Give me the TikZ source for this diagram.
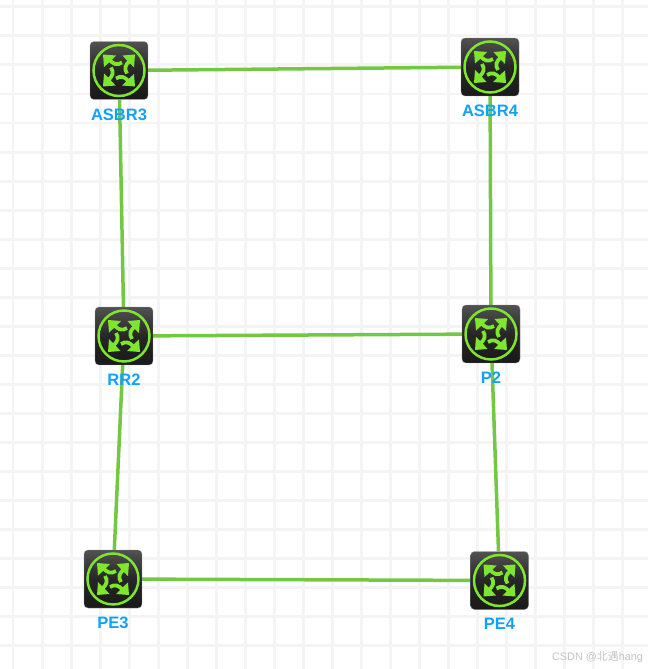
\documentclass[tikz,border=0pt]{standalone}
\usepackage{fontspec}
\setmainfont{Liberation Sans}
\newfontfamily\cjkfont{Noto Sans CJK SC}
\usetikzlibrary{positioning,backgrounds}
\definecolor{gridgray}{HTML}{F4F4F4}
\definecolor{linkgreen}{HTML}{74C742}
\definecolor{icongreen}{HTML}{7FE62E}
\definecolor{labelblue}{HTML}{12A0FF}
\definecolor{markgray}{HTML}{C4C4C4}
\tikzset{
    router/.style={rounded corners=0.08cm,minimum size=1.16cm,inner sep=0pt,
        top color=black!68,bottom color=black!90,middle color=black!85,draw=black!45,line width=0.2pt},
    routerlabel/.style={text=labelblue,font=\fontsize{9.4pt}{10pt}\selectfont\bfseries,inner sep=0pt,below=0.17cm of #1},
    link/.style={draw=linkgreen,line width=0.07cm},
    gridline/.style={draw=gridgray,line width=0.06cm}
}
\begin{document}
\begin{tikzpicture}[x=0.02cm,y=-0.02cm]
    \useasboundingbox (0,0) rectangle (648,669);

    \node[router] (asbr3) at (119,70.5) {};
    \node[router] (asbr4) at (490,67) {};
    \node[router] (rr2) at (124,336) {};
    \node[router] (p2) at (491,334) {};
    \node[router] (pe3) at (113,579) {};
    \node[router] (pe4) at (499.5,580.5) {};

    \foreach \nd in {asbr3,asbr4,rr2,p2,pe3,pe4} {
        \begin{scope}[shift={(\nd.center)},x=0.02cm,y=0.02cm]
            \draw[icongreen,line width=0.05cm] (0,0) circle (25.5);
            \foreach \ang in {0,90,180,270} {
                \begin{scope}[rotate=\ang]
                    \fill[icongreen] (16,16)--(3.5,15)--(7.5,10.5)--(11,7)--(15,3)--cycle;
                    \draw[icongreen,line width=0.075cm] (10.5,9.5) .. controls (6,5) and (5,2) .. (8,-3);
                \end{scope}
            }
        \end{scope}
    }

    \node[routerlabel=asbr3] (asbr3label) {ASBR3};
    \node[routerlabel=asbr4] (asbr4label) {ASBR4};
    \node[routerlabel=rr2] (rr2label) {RR2};
    \node[routerlabel=p2] (p2label) {P2};
    \node[routerlabel=pe3] (pe3label) {PE3};
    \node[routerlabel=pe4] (pe4label) {PE4};

    \node[text=markgray,font=\fontsize{6.2pt}{8pt}\selectfont,inner sep=0pt] (mark) at (597.5,657.5) {CSDN @{\cjkfont 北遇}hang};

    \begin{pgfonlayer}{background}
        \fill[white] (0,0) rectangle (648,669);
        \foreach \k in {0,...,22}
            \draw[gridline] (13+29*\k,0)--(13+29*\k,669);
        \foreach \k in {0,...,22}
            \draw[gridline] (0,7+29*\k)--(648,7+29*\k);
        \draw[link] (asbr3)--(asbr4);
        \draw[link] (asbr3)--(rr2);
        \draw[link] (asbr4)--(p2);
        \draw[link] (rr2)--(p2);
        \draw[link] (rr2)--(pe3);
        \draw[link] (p2)--(pe4);
        \draw[link] (pe3)--(pe4);
    \end{pgfonlayer}
\end{tikzpicture}
\end{document}
